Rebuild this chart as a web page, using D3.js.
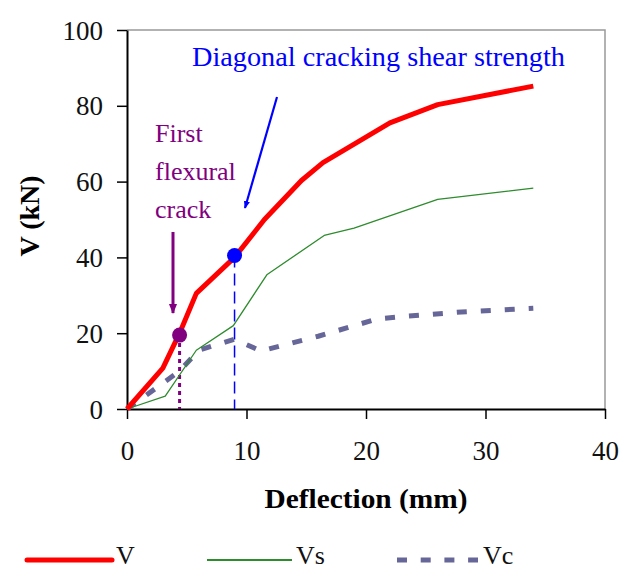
<!DOCTYPE html>
<html>
<head>
<meta charset="utf-8">
<script src="https://cdn.jsdelivr.net/npm/d3@7"></script>
<style>
	body { margin: 0; background: #fff; }
	svg text { font-family: "Liberation Serif", "Times New Roman", serif; }
</style>
</head>
<body>
<div id="chart"></div>
<script>
// ********** LOAD-DEFLECTION CHART **********

// Deflection (mm) and shear (kN)
const vDefl  = [0, 3.0, 4.4, 5.8, 9.0, 11.5, 14.6, 16.4, 22.0, 26.0, 34.0];
const vLoad  = [0, 10.8, 20.0, 30.5, 40.0, 50.0, 60.3, 65.0, 75.5, 80.3, 85.2];

const vsDefl = [0, 3.2, 5.8, 8.9, 11.7, 16.5, 19.0, 26.0, 34.0];
const vsLoad = [0, 3.4, 15.5, 22.0, 35.4, 45.8, 47.7, 55.3, 58.3];

const vcDefl = [0, 4.4, 6.0, 9.0, 11.2, 16.0, 21.0, 23.5, 28.0, 34.0];
const vcLoad = [0, 10.0, 15.5, 18.4, 15.3, 19.2, 23.8, 24.5, 25.6, 26.6];

// Key points marked on the V curve
const crackPoints = [
	{ name: 'flexural', x: 4.4, y: 19.5, color: '#800080' },
	{ name: 'diagonal', x: 9.0, y: 40.5, color: '#0000ff' }
];

const xTicks = [0, 10, 20, 30, 40];
const yTicks = [0, 20, 40, 60, 80, 100];

const legendItems = ['V', 'Vs', 'Vc'];

// Sizes
const width = 622, height = 570;
const margin = { top: 30, left: 127, right: 17, bottom: 161 };

const svg = d3.select('#chart')
	.append('svg')
	.attr('width', width)
	.attr('height', height);

const xScale = d3.scaleLinear()
	.domain([0, 40])
	.range([margin.left, width - margin.right]);

const yScale = d3.scaleLinear()
	.domain([0, 100])
	.range([height - margin.bottom, margin.top]);

// Frame: grey top and right edges
svg.append('path')
	.attr('d', `M${xScale(0)},${yScale(100)}H${xScale(40)}V${yScale(0)}`)
	.attr('fill', 'none')
	.attr('stroke', '#999')
	.attr('stroke-width', 1.5);

// Axes
const xAxis = d3.axisBottom(xScale).tickValues(xTicks).tickSize(10).tickPadding(22).tickSizeOuter(0);
const yAxis = d3.axisLeft(yScale).tickValues(yTicks).tickSize(10).tickPadding(14).tickSizeOuter(0);

const styleAxis = g => {
	g.select('.domain').attr('stroke', '#000').attr('stroke-width', 2);
	g.selectAll('.tick line').attr('stroke', '#000').attr('stroke-width', 1.5);
	g.selectAll('.tick text')
		.attr('fill', '#111')
		.style('font-family', '"Liberation Serif", serif')
		.style('font-size', '27px');
};

svg.append('g')
	.attr('transform', `translate(0, ${yScale(0)})`)
	.call(xAxis)
	.call(styleAxis);

svg.append('g')
	.attr('transform', `translate(${xScale(0)}, 0)`)
	.call(yAxis)
	.call(styleAxis)
	.selectAll('.tick text').attr('dy', '0.34em');

// Axis titles
svg.append('text')
	.attr('x', xScale(20))
	.attr('y', 508)
	.attr('text-anchor', 'middle')
	.style('font-size', '27px')
	.style('font-weight', 'bold')
	.attr('textLength', 203)
	.attr('lengthAdjust', 'spacingAndGlyphs')
	.text('Deflection (mm)');

svg.append('text')
	.attr('transform', `translate(39, 216) rotate(-90)`)
	.attr('text-anchor', 'middle')
	.style('font-size', '28px')
	.style('font-weight', 'bold')
	.text('V (kN)');

// Lines
const line = d3.line()
	.x(d => xScale(d[0]))
	.y(d => yScale(d[1]));

const series = [
	{ name: 'Vc', pts: d3.zip(vcDefl, vcLoad), color: '#666699', w: 5, dash: '10,14' },
	{ name: 'Vs', pts: d3.zip(vsDefl, vsLoad), color: '#2e8b2e', w: 1.3, dash: null },
	{ name: 'V',  pts: d3.zip(vDefl, vLoad),   color: '#ff0000', w: 5, dash: null }
];

// Vertical markers down to the axis
svg.append('line')
	.attr('x1', xScale(crackPoints[0].x)).attr('x2', xScale(crackPoints[0].x))
	.attr('y1', yScale(crackPoints[0].y)).attr('y2', yScale(0))
	.attr('stroke', crackPoints[0].color)
	.attr('stroke-width', 3)
	.attr('stroke-dasharray', '4,4');

svg.append('line')
	.attr('x1', xScale(crackPoints[1].x)).attr('x2', xScale(crackPoints[1].x))
	.attr('y1', yScale(crackPoints[1].y)).attr('y2', yScale(0))
	.attr('stroke', crackPoints[1].color)
	.attr('stroke-width', 1.5)
	.attr('stroke-dasharray', '12,6');

svg.selectAll('path.series')
	.data(series)
	.enter()
	.append('path')
	.attr('class', 'series')
	.attr('d', d => line(d.pts))
	.attr('fill', 'none')
	.attr('stroke', d => d.color)
	.attr('stroke-width', d => d.w)
	.attr('stroke-dasharray', d => d.dash)
	.attr('stroke-linejoin', 'round');

svg.selectAll('circle.crack')
	.data(crackPoints)
	.enter()
	.append('circle')
	.attr('class', 'crack')
	.attr('cx', d => xScale(d.x))
	.attr('cy', d => yScale(d.y))
	.attr('r', 7.5)
	.attr('fill', d => d.color);

// Arrow heads
const defs = svg.append('defs');
['#800080', '#0000ff'].forEach((c, i) => {
	defs.append('marker')
		.attr('id', `arrow-${i}`)
		.attr('viewBox', '0 0 10 10')
		.attr('refX', 9).attr('refY', 5)
		.attr('markerWidth', 3.5).attr('markerHeight', 3.5)
		.attr('markerUnits', 'strokeWidth')
		.attr('orient', 'auto')
		.append('path')
		.attr('d', 'M0,1L10,5L0,9Z')
		.attr('fill', c);
});

// Annotation arrows
svg.append('line')
	.attr('x1', 173).attr('y1', 232)
	.attr('x2', 173).attr('y2', 313)
	.attr('stroke', '#800080')
	.attr('stroke-width', 3)
	.attr('marker-end', 'url(#arrow-0)');

svg.append('line')
	.attr('x1', 277).attr('y1', 97)
	.attr('x2', 245).attr('y2', 208)
	.attr('stroke', '#0000ff')
	.attr('stroke-width', 2.2)
	.attr('marker-end', 'url(#arrow-1)');

// Annotation texts
svg.append('text')
	.attr('x', 192)
	.attr('y', 66)
	.attr('fill', '#0000ff')
	.style('font-size', '28px')
	.attr('textLength', 373)
	.attr('lengthAdjust', 'spacingAndGlyphs')
	.text('Diagonal cracking shear strength');

const flex = svg.append('text')
	.attr('fill', '#800080')
	.style('font-size', '26px');
['First', 'flexural', 'crack'].forEach((t, i) => {
	flex.append('tspan')
		.attr('x', 155)
		.attr('y', 142 + i * 38)
		.text(t);
});

// Legend
const legendX = [27, 207, 397];
const legend = svg.selectAll('g.legend')
	.data(legendItems)
	.enter()
	.append('g')
	.attr('class', 'legend')
	.attr('transform', (d, i) => `translate(${legendX[i]}, 560)`);

legend.append('line')
	.attr('x1', 0).attr('x2', d => d === 'Vc' ? 81 : 85)
	.attr('stroke', d => series.find(s => s.name === d).color)
	.attr('stroke-width', d => d === 'Vs' ? 2 : 5)
	.attr('stroke-linecap', d => d === 'V' ? 'round' : 'butt')
	.attr('stroke-dasharray', d => d === 'Vc' ? '10,13.7' : null);

legend.append('text')
	.attr('x', d => d === 'Vc' ? 86 : 89)
	.attr('y', 4)
	.style('font-size', '26px')
	.attr('fill', '#111')
	.text(d => d);
</script>
</body>
</html>
